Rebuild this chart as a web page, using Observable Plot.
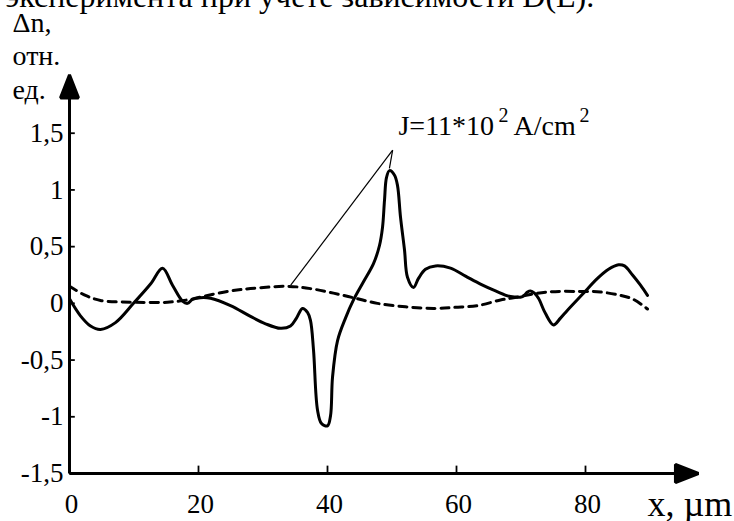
<!DOCTYPE html>
<html>
<head>
<meta charset="utf-8">
<script src="https://cdn.jsdelivr.net/npm/d3@7"></script>
<script src="https://cdn.jsdelivr.net/npm/@observablehq/plot@0.6"></script>
<style>
  html, body { margin: 0; padding: 0; background: #fff; }
  #chart svg { display: block; }
</style>
</head>
<body>
<div id="chart"></div>
<script>
// ---- data ----
const solidX = [0, 1.7, 3.26, 4.81, 7.13, 9.92, 12.56, 14.42, 15.97, 17.52, 18.29, 19.07, 20.31, 21.86, 24.96, 28.06, 30.39, 32.71, 34.26, 35.19, 36.12, 36.9, 37.36, 37.83, 38.45, 39.07, 40.0, 40.47, 40.78, 41.55, 42.79, 44.03, 45.58, 47.13, 48.06, 48.53, 48.84, 49.15, 49.61, 50.39, 50.85, 51.32, 51.94, 52.4, 53.33, 54.11, 55.19, 56.74, 59.07, 61.4, 63.72, 66.05, 68.37, 70.23, 71.0, 71.47, 72.09, 72.71, 73.8, 75.04, 76.12, 77.21, 79.53, 81.86, 83.57, 85.12, 86.05, 87.29, 88.53, 89.61];
const solidY = [0.04, -0.11, -0.2, -0.23, -0.17, 0, 0.17, 0.31, 0.16, 0.02, 0, 0.035, 0.05, 0.045, -0.02, -0.115, -0.18, -0.22, -0.2, -0.13, -0.045, -0.08, -0.15, -0.41, -0.94, -1.06, -1.08, -0.99, -0.65, -0.33, -0.13, 0.03, 0.19, 0.35, 0.51, 0.67, 0.91, 1.11, 1.17, 1.13, 1.04, 0.76, 0.47, 0.23, 0.14, 0.22, 0.3, 0.33, 0.31, 0.24, 0.17, 0.11, 0.06, 0.06, 0.1, 0.11, 0.09, 0.045, -0.09, -0.19, -0.13, -0.06, 0.08, 0.22, 0.3, 0.34, 0.33, 0.25, 0.16, 0.07];
const dashX = [0, 2.48, 4.81, 9.92, 15.19, 18.76, 21.4, 24.96, 28.06, 33.8, 37.36, 40.93, 44.34, 47.75, 52.09, 56.43, 59.84, 63.26, 66.82, 68.37, 74.11, 79.23, 82.33, 85.43, 87.44, 89.61];
const dashY = [0.15, 0.07, 0.026, 0.01, 0.01, 0.035, 0.07, 0.11, 0.13, 0.15, 0.13, 0.09, 0.045, 0, -0.03, -0.045, -0.035, -0.02, 0.03, 0.045, 0.1, 0.105, 0.1, 0.07, 0.035, -0.05];

const xTicks = [0, 20, 40, 60, 80];
const xTickLabels = ["0", "20", "40", "60", "80"];
const yTicks = [1.5, 1, 0.5, 0, -0.5, -1, -1.5];
const yTickLabels = ["1,5", "1", "0,5", "0", "-0,5", "-1", "-1,5"];

// annotation "J=11*10^2 A/cm^2"
const annMain = "J=11*10";
const annSup = "2";
const annUnit = "A/cm";
const annotationAt = [51.0, 1.48];
const leaderFrom = [50.1, 1.35];
const leaderToX = [34.3, 49.6];
const leaderToY = [0.16, 1.19];

const yAxisLabel = "Δn,\nотн.\nед.";
const xAxisLabel = "x, µm";
const cutText = "эксперимента при учете зависимости D(E).";

const xMin = 0, xMax = 100, yMin = -1.5, yMax = 2.0;
const xArrowBase = 94.1, yArrowBase = 1.82;

// ---- tables ----
const solid = solidX.map((x, i) => ({x, y: solidY[i]}));
const dashed = dashX.map((x, i) => ({x, y: dashY[i]}));
const yTickData = yTicks.map((v, i) => ({v, label: yTickLabels[i]}));
const xTickData = xTicks.map((v, i) => ({v, label: xTickLabels[i]}));
const leaders = leaderToX.map((x, i) => ({x1: leaderFrom[0], y1: leaderFrom[1], x2: x, y2: leaderToY[i]}));

const font = "'Liberation Serif', 'DejaVu Serif', 'Times New Roman', serif";

const arrowHead = (color) => d3.create("svg:marker")
  .attr("viewBox", "0 -9 23 18")
  .attr("markerUnits", "userSpaceOnUse")
  .attr("markerWidth", 23)
  .attr("markerHeight", 18)
  .attr("refX", 1)
  .attr("refY", 0)
  .attr("orient", "auto")
  .attr("overflow", "visible")
  .call(m => m.append("path").attr("d", "M0,-9L23,0L0,9Z").attr("fill", color))
  .node();

const annText = (t, dx, dy, size) => Plot.text([t], {
  x: annotationAt[0], y: annotationAt[1], text: d => d,
  textAnchor: "start", lineAnchor: "bottom", dx, dy, fontSize: size, fill: "black"
});

const chart = Plot.plot({
  width: 734,
  height: 521,
  marginLeft: 69,
  marginRight: 20,
  marginTop: 76,
  marginBottom: 48,
  x: {domain: [xMin, xMax], axis: null},
  y: {domain: [yMin, yMax], axis: null},
  style: {fontFamily: font, background: "white", color: "black", overflow: "visible"},
  marks: [
    // axes
    Plot.link([{x1: 0, y1: yMin, x2: 0, y2: yArrowBase}], {x1: "x1", y1: "y1", x2: "x2", y2: "y2", stroke: "black", strokeWidth: 3, markerEnd: arrowHead}),
    Plot.link([{x1: 0, y1: yMin, x2: xArrowBase, y2: yMin}], {x1: "x1", y1: "y1", x2: "x2", y2: "y2", stroke: "black", strokeWidth: 3, markerEnd: arrowHead}),
    Plot.ruleY(yTickData, {y: "v", x1: 0, x2: 0.9, stroke: "black", strokeWidth: 1.8}),
    Plot.ruleX(xTickData.filter(d => d.v !== 0), {x: "v", y1: yMin, y2: yMin + 0.065, stroke: "black", strokeWidth: 1.8}),
    Plot.text(yTickData, {x: 0, y: "v", text: "label", textAnchor: "end", dx: -6, fontSize: 27, fill: "black"}),
    Plot.text(xTickData, {x: "v", y: yMin, text: "label", lineAnchor: "bottom", dy: 39, dx: 2, fontSize: 27, fill: "black"}),
    // axis titles
    Plot.text([yAxisLabel], {frameAnchor: "top-left", text: d => d, textAnchor: "start", lineAnchor: "bottom", lineHeight: 1.18, dx: -57, dy: 22, fontSize: 28, fill: "black"}),
    Plot.text([xAxisLabel], {frameAnchor: "bottom-right", text: d => d, textAnchor: "start", lineAnchor: "bottom", dx: -67, dy: 42, fontSize: 36, fill: "black"}),
    Plot.text([cutText], {frameAnchor: "top-left", text: d => d, textAnchor: "start", lineAnchor: "bottom", dx: -64, dy: -70, fontSize: 32, fill: "black"}),
    // curves
    Plot.line(dashed, {x: "x", y: "y", curve: "catmull-rom", stroke: "black", strokeWidth: 3, strokeDasharray: "8,6"}),
    Plot.line(solid, {x: "x", y: "y", curve: "catmull-rom", stroke: "black", strokeWidth: 3, strokeLinejoin: "round"}),
    // annotation
    Plot.link(leaders, {x1: "x1", y1: "y1", x2: "x2", y2: "y2", stroke: "black", strokeWidth: 1.2}),
    annText(annMain, 0, 0, 28),
    annText(annSup, 100, -13, 20),
    annText(annUnit, 115, 0, 28),
    annText(annSup, 181, -13, 20)
  ]
});

document.getElementById("chart").appendChild(chart);
</script>
</body>
</html>
